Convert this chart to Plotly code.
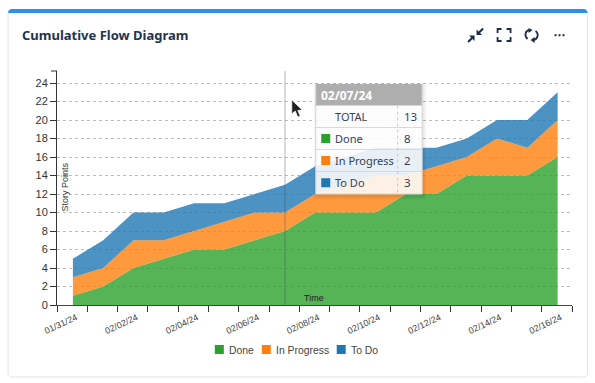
import plotly.graph_objects as go

dates = ["2024-01-31", "2024-02-01", "2024-02-02", "2024-02-03", "2024-02-04", "2024-02-05",
         "2024-02-06", "2024-02-07", "2024-02-08", "2024-02-09", "2024-02-10", "2024-02-11",
         "2024-02-12", "2024-02-13", "2024-02-14", "2024-02-15", "2024-02-16"]
done = [1, 2, 4, 5, 6, 6, 7, 8, 10, 10, 10, 12, 12, 14, 14, 14, 16]
in_progress = [2, 2, 3, 2, 2, 3, 3, 2, 2, 3, 4, 2, 3, 2, 4, 3, 4]
to_do = [2, 3, 3, 3, 3, 2, 2, 3, 3, 3, 3, 3, 2, 2, 2, 3, 3]
series_names = ["Done", "In Progress", "To Do"]
solid_colors = ["#2ca02c", "#ff7f0e", "#1f77b4"]
fill_colors = ["rgba(44,160,44,0.8)", "rgba(255,127,14,0.8)", "rgba(31,119,180,0.8)"]
tooltip_date = "02/07/24"
TITLE = "Cumulative Flow Diagram"

W, H = 595, 383
L, R, T, B = 57, 572.5, 71, 305
UI = "Noto Sans"
NAVY = "#24324f"


def px(x):
    return (x - L) / (R - L)


def py(y):
    return (B - y) / (B - T)


def path_of(cmds):
    out = []
    for c in cmds:
        if c == "Z":
            out.append("Z")
        else:
            pts = c[1:]
            s = c[0]
            coords = " ".join(f"{px(pts[i]):.5f},{py(pts[i + 1]):.5f}" for i in range(0, len(pts), 2))
            out.append(f"{s} {coords}")
    return " ".join(out)


shapes = []
annots = []


def rect(x0, y0, x1, y1, fill, line=None, lw=1, layer="above"):
    shapes.append(dict(type="rect", xref="paper", yref="paper", x0=px(x0), x1=px(x1), y0=py(y0), y1=py(y1),
                       fillcolor=fill, line=dict(color=line or "rgba(0,0,0,0)", width=lw if line else 0), layer=layer))


def hvline(x0, y0, x1, y1, color, lw=1, dash="solid", layer="above"):
    shapes.append(dict(type="line", xref="paper", yref="paper", x0=px(x0), x1=px(x1), y0=py(y0), y1=py(y1),
                       line=dict(color=color, width=lw, dash=dash), layer=layer))


def poly(cmds, fill=None, line=None, lw=1, layer="above"):
    shapes.append(dict(type="path", xref="paper", yref="paper", path=path_of(cmds),
                       fillcolor=fill or "rgba(0,0,0,0)",
                       line=dict(color=line or "rgba(0,0,0,0)", width=lw if line else 0), layer=layer))


def text(x, y, s, size=11, color="#333", family=UI, anchor="left", angle=0, bold=False):
    annots.append(dict(xref="paper", yref="paper", x=px(x), y=py(y), text=f"<b>{s}</b>" if bold else s,
                       showarrow=False, xanchor=anchor, yanchor="middle", textangle=angle,
                       font=dict(size=size, color=color, family=family), borderpad=0, borderwidth=0))


# Card
r = 4
poly([("M", 8 + r, 9.5), ("L", 588 - r, 9.5), ("C", 586, 9.5, 588, 10, 588, 13), ("L", 588, 373),
      ("C", 588, 375, 586, 377, 584, 377), ("L", 12, 377), ("C", 10, 377, 8, 375, 8, 373), ("L", 8, 13),
      ("C", 8, 10, 10, 9.5, 12, 9.5), "Z"], fill="#ffffff", line="#e2e4e8", lw=1, layer="below")
poly([("M", 8, 13), ("C", 8, 10.5, 10, 9, 12, 9), ("L", 584, 9), ("C", 586, 9, 588, 10.5, 588, 13), "Z"],
     fill="#2f8fef", layer="below")
text(22, 34.5, TITLE, size=13, color=NAVY, bold=True)

# Header icons
nv = "#1e2c48"
poly([("M", 475, 35.5), ("L", 475, 41), ("L", 469.5, 35.5), "Z"], fill=nv)
hvline(468.5, 42, 473, 37.5, nv, 2)
poly([("M", 477, 35), ("L", 477, 29.5), ("L", 482.5, 35), "Z"], fill=nv)
hvline(483.5, 28.5, 479, 33, nv, 2)
for sx, sy, x0, y0 in [(1, 1, 498, 29), (-1, 1, 511, 29), (1, -1, 498, 41), (-1, -1, 511, 41)]:
    poly([("M", x0, y0 + 4 * sy), ("L", x0, y0), ("L", x0 + 4 * sx, y0)], line=nv, lw=1.8)
poly([("M", 528, 39), ("C", 524, 35, 526, 30, 531, 30)], line=nv, lw=1.8)
poly([("M", 529, 28), ("L", 533, 30), ("L", 529, 33), "Z"], fill=nv)
poly([("M", 536, 31), ("C", 540, 34, 538, 40, 533, 40)], line=nv, lw=1.8)
poly([("M", 535, 37), ("L", 531, 40), ("L", 535, 43), "Z"], fill=nv)
for cx in (556, 560, 564):
    rect(cx - 1, 34.2, cx + 1, 36.2, nv)

# Axis end ticks and axis captions
hvline(51, T, L, T, "#333333", 1, layer="below")
text(65.5, 187, "Story Points", size=9, color="#333", family="Liberation Sans", anchor="center", angle=-90)
text(314.5, 298, "Time", size=9, color="#222", family="Liberation Sans", anchor="center")

# Hover guide
shapes.append(dict(type="line", xref="x", yref="paper", x0="2024-02-07", x1="2024-02-07", y0=0, y1=1,
                   line=dict(color="rgba(70,70,70,0.4)", width=1), layer="above"))

# Tooltip
tl, tr, tt, tb = 316, 422.5, 84, 194
for g, a in [(4, 0.012), (3, 0.018), (2, 0.025), (1, 0.03)]:
    rect(tl - g + 1, tt - g + 2, tr + g + 1, tb + g + 2, f"rgba(0,0,0,{a})")
rect(tl, tt, tr, tb, "rgba(255,255,255,0.88)")
rect(tl, tt, tr, 105.5, "rgba(165,165,165,0.9)")
text(tl + 5, 95, tooltip_date, size=12, color="#ffffff", bold=True)
rows = [105.5, 127.5, 149.5, 171.5, 194]
for yy in rows[1:]:
    hvline(tl, yy, tr, yy, "#d5dade", 1)
hvline(tl, tt, tl, tb, "#d5d5d5", 1)
hvline(tr, tt, tr, tb, "#d5d5d5", 1)
hvline(398, 105.5, 398, tb, "#c8c8c8", 1, dash="dot")
idx = dates.index("2024-02-07")
vals = [done[idx] + in_progress[idx] + to_do[idx], done[idx], in_progress[idx], to_do[idx]]
labels = ["TOTAL"] + series_names
for i, (lab, v) in enumerate(zip(labels, vals)):
    yc = (rows[i] + rows[i + 1]) / 2
    text(335, yc, lab, size=11, color="#33415c")
    text(404, yc, str(v), size=11.5, color="#33415c")
    if i:
        rect(321.5, yc - 4.5, 330.5, yc + 4.5, solid_colors[i - 1])

# Legend
for sx, tx, name, col in zip((215, 262, 337), (229, 276, 351), series_names, solid_colors):
    rect(sx, 345, sx + 9, 354, col)
    text(tx, 350, name, size=10.4, color="#444", family="Liberation Sans")

# Cursor
poly([("M", 292, 100), ("L", 292, 114), ("L", 295.5, 111), ("L", 298, 117), ("L", 300.5, 116),
      ("L", 298, 110.5), ("L", 302.5, 110), "Z"], fill="#222222", line="#ffffff", lw=0.7)

fig = go.Figure()
for name, vals_, fc in zip(series_names, (done, in_progress, to_do), fill_colors):
    fig.add_trace(go.Scatter(x=dates, y=vals_, name=name, mode="none", stackgroup="one", fillcolor=fc,
                             showlegend=False))

fig.update_layout(
    width=W, height=H, autosize=False,
    margin=dict(l=L, r=W - R, t=T, b=H - B, pad=0),
    paper_bgcolor="#ffffff", plot_bgcolor="rgba(0,0,0,0)",
    shapes=shapes, annotations=annots, showlegend=False,
    font=dict(family="Liberation Sans", size=10, color="#333"),
    xaxis=dict(type="date", range=["2024-01-30 11:24", "2024-02-16 11:24"], showgrid=False, zeroline=False,
               tick0="2024-01-31 02:30", dtick=172800000, tickformat="%m/%d/%y", tickangle=-25,
               ticks="", ticklen=0, ticklabelstandoff=3, tickfont=dict(size=9, color="#444"),
               showline=True, linecolor="#444444", linewidth=1,
               minor=dict(tick0="2024-01-30 11:24", dtick=86400000, ticks="outside", ticklen=6,
                          tickwidth=1, tickcolor="#333333", showgrid=False)),
    yaxis=dict(range=[0, 25.3], dtick=2, tick0=0, showgrid=True, gridcolor="#bcbcbc", griddash="3px,3px",
               gridwidth=1, zeroline=False, showline=True, linecolor="#333333", linewidth=1, ticks="outside",
               ticklen=6, tickcolor="#333333", tickfont=dict(size=11, color="#333")),
)
fig.write_html("out.html", config=dict(displayModeBar=False),
               post_script="document.body.style.margin='0';document.documentElement.style.overflow='hidden';")
